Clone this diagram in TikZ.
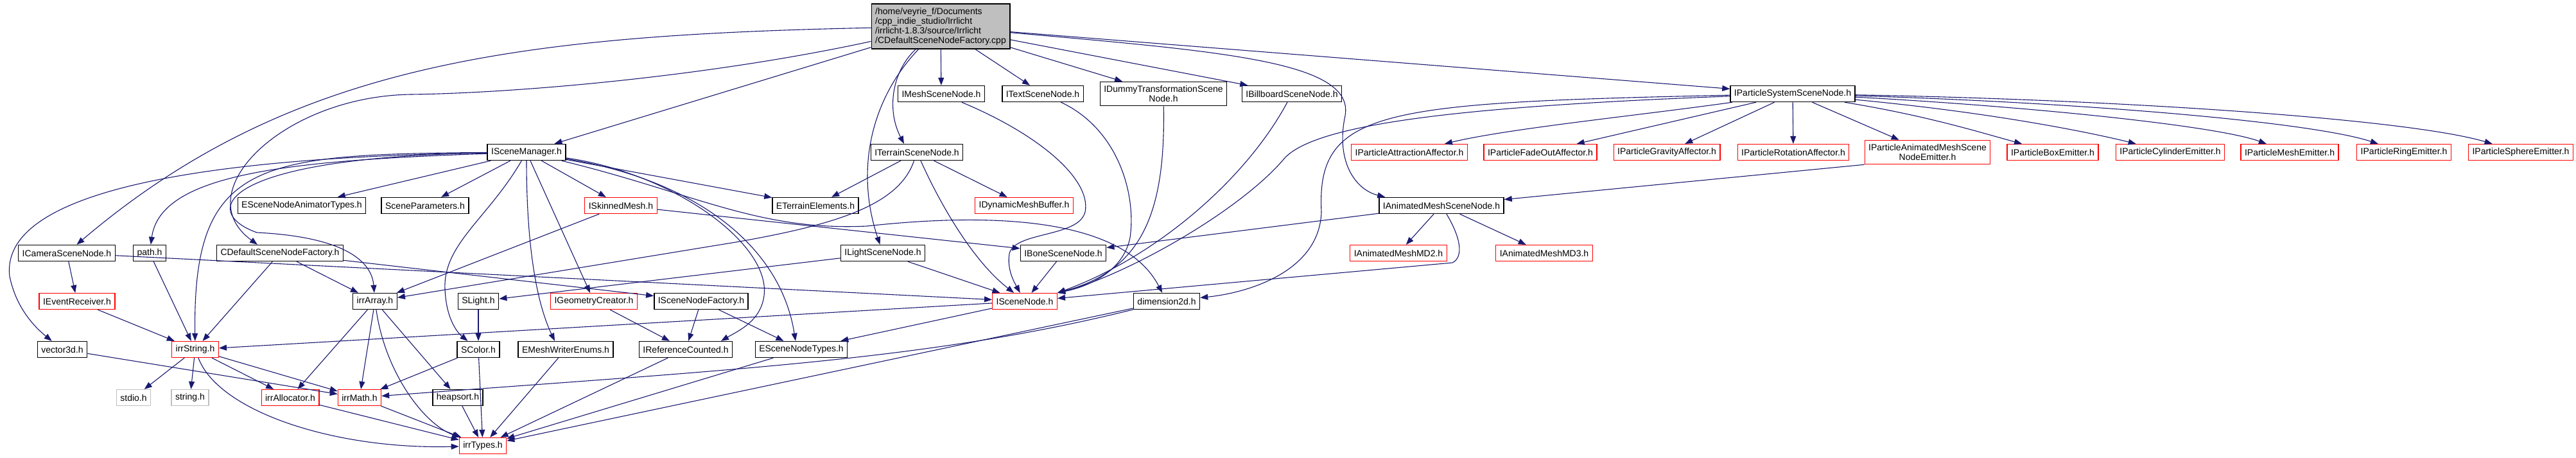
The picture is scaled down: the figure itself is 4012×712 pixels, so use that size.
\documentclass[tikz,border=0pt]{standalone}
\usepackage{fontspec}
\setmainfont{Liberation Sans}
\usepackage{tikz}
\usetikzlibrary{arrows.meta}
\definecolor{edgeblue}{HTML}{191970}
\definecolor{boxgray}{HTML}{BFBFBF}
\definecolor{missred}{HTML}{FF0000}

\begin{document}
\begin{tikzpicture}[x=1pt, y=-1pt, font=\fontsize{14}{15}\selectfont,
            file/.style={draw=black, line width=1.4pt, fill=white, minimum height=25pt,
                inner xsep=6pt, inner ysep=6pt, align=center},
            trunc/.style={file, draw=missred, line width=1.2pt},
            sysfile/.style={file, draw=boxgray, line width=1.2pt},
            dep/.style={draw=edgeblue, line width=1.1pt, -{Triangle[length=12pt, width=9pt]}}]
            \useasboundingbox (0,0) rectangle (4012,712);
            % source file
            \node[file, fill=boxgray, align=left] (root) at (1465,41) {/home/veyrie\_f/Documents\\/cpp\_indie\_studio/Irrlicht\\/irrlicht-1.8.3/source/Irrlicht\\/CDefaultSceneNodeFactory.cpp};
            % first row
            \node[file] (meshsn) at (1466,146) {IMeshSceneNode.h};
            \node[file] (textsn) at (1624,146) {ITextSceneNode.h};
            \node[file] (dummysn) at (1812,146) {IDummyTransformationScene\\Node.h};
            \node[file] (billsn) at (2012,146) {IBillboardSceneNode.h};
            \node[file] (partsys) at (2792,146) {IParticleSystemSceneNode.h};
            % second row
            \node[file] (smgr) at (820,237) {ISceneManager.h};
            \node[file] (terrain) at (1428,237) {ITerrainSceneNode.h};
            \node[trunc] (pattr) at (2195,237) {IParticleAttractionAffector.h};
            \node[trunc] (pfade) at (2399,237) {IParticleFadeOutAffector.h};
            \node[trunc] (pgrav) at (2596,237) {IParticleGravityAffector.h};
            \node[trunc] (prot) at (2793,237) {IParticleRotationAffector.h};
            \node[trunc] (pamesh) at (3002,237) {IParticleAnimatedMeshScene\\NodeEmitter.h};
            \node[trunc] (pbox) at (3197,237) {IParticleBoxEmitter.h};
            \node[trunc] (pcyl) at (3380,237) {IParticleCylinderEmitter.h};
            \node[trunc] (pmesh) at (3566,237) {IParticleMeshEmitter.h};
            \node[trunc] (pring) at (3744,237) {IParticleRingEmitter.h};
            \node[trunc] (psphere) at (3926,237) {IParticleSphereEmitter.h};
            % third row
            \node[file] (esnat) at (470,320) {ESceneNodeAnimatorTypes.h};
            \node[file] (sparams) at (662,320) {SceneParameters.h};
            \node[trunc] (skinned) at (967,320) {ISkinnedMesh.h};
            \node[file] (eterr) at (1270,320) {ETerrainElements.h};
            \node[trunc] (dynbuf) at (1595,320) {IDynamicMeshBuffer.h};
            \node[file] (animsn) at (2245,320) {IAnimatedMeshSceneNode.h};
            % fourth row
            \node[file] (camsn) at (104,394) {ICameraSceneNode.h};
            \node[file] (path) at (233,394) {path.h};
            \node[file] (cdfac) at (436,394) {CDefaultSceneNodeFactory.h};
            \node[file] (lightsn) at (1375,394) {ILightSceneNode.h};
            \node[file] (bonesn) at (1656,394) {IBoneSceneNode.h};
            \node[trunc] (md2) at (2178,394) {IAnimatedMeshMD2.h};
            \node[trunc] (md3) at (2405,394) {IAnimatedMeshMD3.h};
            % fifth row
            \node[trunc] (evrec) at (120,469) {IEventReceiver.h};
            \node[file] (array) at (584,469) {irrArray.h};
            \node[file] (slight) at (745,469) {SLight.h};
            \node[trunc] (geocr) at (925,469) {IGeometryCreator.h};
            \node[file] (snfac) at (1092,469) {ISceneNodeFactory.h};
            \node[trunc] (scenenode) at (1596,469) {ISceneNode.h};
            \node[file] (dim2d) at (1817,469) {dimension2d.h};
            % sixth row
            \node[file] (vec3d) at (97,544) {vector3d.h};
            \node[trunc] (string) at (304,544) {irrString.h};
            \node[file] (scolor) at (745,544) {SColor.h};
            \node[file] (emwe) at (881,544) {EMeshWriterEnums.h};
            \node[file] (refc) at (1068,544) {IReferenceCounted.h};
            \node[file] (esnt) at (1248,544) {ESceneNodeTypes.h};
            % seventh row
            \node[sysfile] (stdio) at (208,619) {stdio.h};
            \node[sysfile] (cstring) at (296,619) {string.h};
            \node[trunc] (alloc) at (452,619) {irrAllocator.h};
            \node[trunc] (math) at (560,619) {irrMath.h};
            \node[file] (heapsort) at (713,619) {heapsort.h};
            \node[trunc] (types) at (752,694) {irrTypes.h};

            % includes of the source file
            \draw[dep] (root) .. controls (800,55) and (450,100) .. (camsn);
            \draw[dep] (root) .. controls (1100,120) and (800,145) .. (640,147) .. controls (440,150) and (290,300) .. ([xshift=-35]cdfac.north);
            \draw[dep] (root) -- (smgr);
            \draw[dep] (root) .. controls (1390,110) and (1380,170) .. ([xshift=-20]terrain.north);
            \draw[dep] (root) .. controls (1360,150) and (1330,260) .. (lightsn);
            \draw[dep] (root) -- (meshsn);
            \draw[dep] (root) -- (textsn);
            \draw[dep] (root) -- (dummysn);
            \draw[dep] (root) -- (billsn);
            \draw[dep] (root) -- (partsys);
            \draw[dep] (root) .. controls (1900,80) and (2110,95) .. (2095,180) .. controls (2080,250) and (2110,295) .. ([xshift=10]animsn.north west);
            % scene manager
            \draw[dep] (smgr) .. controls (300,245) and (0,300) .. (15,430) .. controls (25,480) and (55,510) .. (vec3d);
            \draw[dep] (smgr) .. controls (450,250) and (250,270) .. (path);
            \draw[dep] (smgr) .. controls (400,240) and (300,250) .. (string);
            \draw[dep] (smgr) .. controls (340,245) and (310,330) .. (400,362) .. controls (560,370) and (580,420) .. (array);
            \draw[dep] (smgr) -- (esnat);
            \draw[dep] (smgr) -- (sparams);
            \draw[dep] (smgr) .. controls (760,340) and (690,380) .. (693,450) .. controls (695,500) and (715,520) .. (scolor);
            \draw[dep] (smgr) .. controls (820,380) and (835,470) .. ([xshift=-17]emwe.north);
            \draw[dep] (smgr) -- (geocr);
            \draw[dep] (smgr) -- (skinned);
            \draw[dep] (smgr) -- (eterr);
            \draw[dep] (smgr) .. controls (1080,300) and (1180,360) .. (1350,352) .. controls (1550,330) and (1750,340) .. (dim2d);
            \draw[dep] (smgr) .. controls (1050,270) and (1200,380) .. (1190,460) .. controls (1185,500) and (1150,515) .. ([xshift=55]refc.north);
            \draw[dep] (smgr) .. controls (1080,280) and (1215,380) .. ([xshift=-9]esnt.north);
            % left part
            \draw[dep] (cdfac) -- (string);
            \draw[dep] (cdfac) -- (array);
            \draw[dep] (cdfac) -- (snfac);
            \draw[dep] (camsn) -- (evrec);
            \draw[dep] (camsn) -- (scenenode);
            \draw[dep] (path) -- (string);
            \draw[dep] (evrec) -- (string);
            \draw[dep] (vec3d) -- (math);
            \draw[dep] (string) -- (stdio);
            \draw[dep] (string) -- (cstring);
            \draw[dep] (string) -- (alloc);
            \draw[dep] (string) -- (math);
            \draw[dep] (string) .. controls (340,640) and (520,700) .. (types);
            \draw[dep] (array) -- (alloc);
            \draw[dep] (array) -- (math);
            \draw[dep] (array) -- (heapsort);
            \draw[dep] (array) .. controls (600,580) and (660,660) .. (types);
            \draw[dep] (slight) -- (scolor);
            \draw[dep] (scolor) -- (math);
            \draw[dep] (scolor) -- (types);
            \draw[dep] (heapsort) -- (types);
            \draw[dep] (alloc) -- (types);
            \draw[dep] (math) -- (types);
            \draw[dep] (emwe) -- (types);
            \draw[dep] (refc) -- (types);
            \draw[dep] (esnt) -- (types);
            \draw[dep] (dim2d) -- (types);
            \draw[dep] (dim2d) .. controls (1450,560) and (1150,575) .. (math);
            \draw[dep] (geocr) -- (refc);
            \draw[dep] (snfac) -- (refc);
            \draw[dep] (snfac) -- (esnt);
            \draw[dep] (skinned) -- (array);
            \draw[dep] (skinned) -- (bonesn);
            % scene nodes
            \draw[dep] (terrain) -- (eterr);
            \draw[dep] (terrain) .. controls (1400,320) and (1300,350) .. (1146,377) -- (array);
            \draw[dep] (terrain) .. controls (1470,330) and (1520,410) .. (scenenode);
            \draw[dep] (terrain) -- (dynbuf);
            \draw[dep] (lightsn) -- (slight);
            \draw[dep] (lightsn) -- (scenenode);
            \draw[dep] (bonesn) -- (scenenode);
            \draw[dep] (scenenode) -- (string);
            \draw[dep] (scenenode) -- (esnt);
            \draw[dep] (meshsn) .. controls (1620,210) and (1700,280) .. (1690,330) .. controls (1680,370) and (1580,360) .. (1572,395) .. controls (1568,420) and (1580,440) .. (scenenode);
            \draw[dep] (textsn) .. controls (1740,200) and (1770,300) .. (1760,370) .. controls (1750,420) and (1700,445) .. (scenenode.north east);
            \draw[dep] (dummysn) .. controls (1815,330) and (1780,420) .. (scenenode.north east);
            \draw[dep] (billsn) .. controls (1940,280) and (1800,400) .. (scenenode.north east);
            \draw[dep] (partsys) .. controls (2300,165) and (2050,190) .. (2000,247) .. controls (1930,330) and (1750,430) .. (scenenode.north east);
            \draw[dep] (partsys) .. controls (2150,160) and (2050,170) .. (2058,330) .. controls (2055,420) and (1950,455) .. (dim2d);
            \draw[dep] (animsn) .. controls (2275,370) and (2280,400) .. (2262,409) -- (scenenode);
            \draw[dep] (animsn) -- (bonesn);
            \draw[dep] (animsn) -- (md2);
            \draw[dep] (animsn) -- (md3);
            \draw[dep] (pamesh.south west) -- (animsn);
            % particle system
            \draw[dep] (partsys) .. controls (2550,180) and (2350,200) .. (pattr);
            \draw[dep] (partsys) -- (pfade);
            \draw[dep] (partsys) -- (pgrav);
            \draw[dep] (partsys) -- (prot);
            \draw[dep] (partsys) -- (pamesh);
            \draw[dep] (partsys) .. controls (3000,180) and (3080,205) .. (pbox);
            \draw[dep] (partsys) .. controls (3100,175) and (3250,205) .. (pcyl);
            \draw[dep] (partsys) .. controls (3150,165) and (3450,195) .. (pmesh);
            \draw[dep] (partsys) .. controls (3250,160) and (3600,190) .. (pring);
            \draw[dep] (partsys) .. controls (3300,155) and (3750,185) .. (psphere);
        \end{tikzpicture}
\end{document}
